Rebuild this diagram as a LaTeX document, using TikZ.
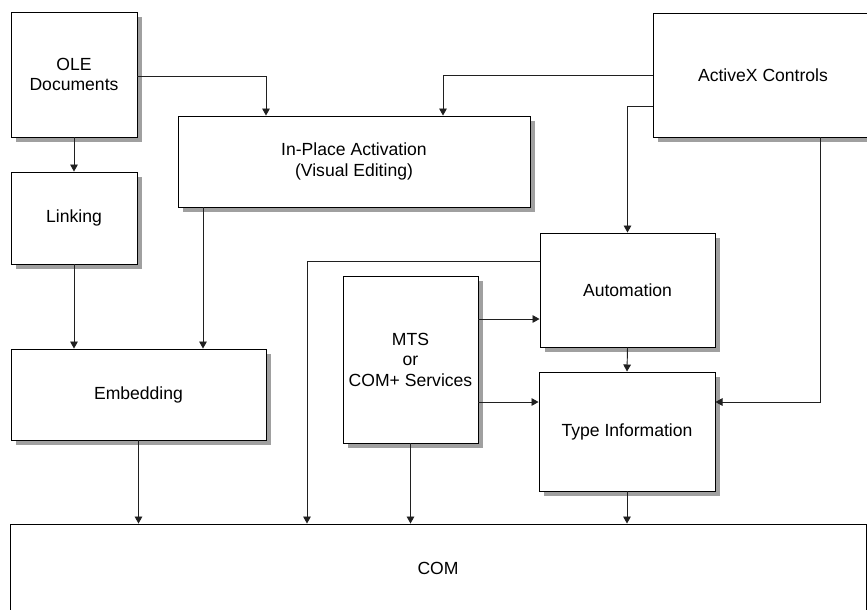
\documentclass[tikz,border=0pt]{standalone}
\usepackage{fontspec}
\setmainfont{Liberation Sans}
\usetikzlibrary{arrows.meta}
\definecolor{shadowgray}{HTML}{A0A0A0}
\definecolor{linegray}{HTML}{202020}
\begin{document}
\begin{tikzpicture}[x=0.03cm,y=-0.03cm,
  box/.style={draw=black, line width=0.8pt, fill=white, rectangle, align=center,
    inner sep=0pt, font=\fontsize{15}{17.5}\selectfont},
  shadowbox/.style={fill=shadowgray, draw=none},
  arr/.style={draw=linegray, line width=0.8pt, -{Triangle[width=6.5pt,length=6pt]}}]
\fill[white] (0,0) rectangle (867,609);
\useasboundingbox (0,0) rectangle (867,609);
\clip (0,0) rectangle (867,609);

% shadows
\fill[shadowbox] (16,17) rectangle (142,142);
\fill[shadowbox] (16,177) rectangle (142,269);
\fill[shadowbox] (16,354) rectangle (271,445);
\fill[shadowbox] (183,121) rectangle (535,212);
\fill[shadowbox] (658,18) rectangle (878,142);
\fill[shadowbox] (545,238) rectangle (720,352);
\fill[shadowbox] (348,281) rectangle (483,448);
\fill[shadowbox] (544,377) rectangle (720,496);

% boxes
\node[box, minimum width=3.78cm, minimum height=3.75cm] (ole) at (74,74.5) {OLE\\Documents};
\node[box, minimum width=3.78cm, minimum height=2.76cm] (link) at (74,218) {Linking};
\node[box, minimum width=7.65cm, minimum height=2.73cm] (emb) at (138.5,394.5) {Embedding};
\node[box, minimum width=10.56cm, minimum height=2.73cm] (inplace) at (354,161.5) {In-Place Activation\\(Visual Editing)};
\node[box, minimum width=6.6cm, minimum height=3.72cm] (activex) at (763,75) {ActiveX Controls};
\node[box, minimum width=5.25cm, minimum height=3.42cm] (auto) at (627.5,290) {Automation};
\node[box, minimum width=4.05cm, minimum height=5.01cm] (mts) at (410.5,359.5) {MTS\\or\\COM+ Services};
\node[box, minimum width=5.28cm, minimum height=3.57cm] (type) at (627,431.5) {Type Information};
\node[box, minimum width=25.68cm, minimum height=2.64cm] (com) at (438,568) {COM};

% connectors
\draw[arr] (ole.east |- 0,76) -| (266,0 |- inplace.north);
\draw[arr] (activex.west |- 0,75) -| (443,0 |- inplace.north);
\draw[arr] (activex.west |- 0,106) -| (auto.north);
\draw[arr] (820,0 |- activex.south) |- (type.east |- 0,402);
\draw[arr] (ole.south) -- (link.north);
\draw[arr] (link.south) -- (link.south |- emb.north);
\draw[arr] (203,0 |- inplace.south) -- (203,0 |- emb.north);
\draw[arr] (auto.west |- 0,261) -| (307,0 |- com.north);
\draw[arr] (mts.east |- 0,319) -- (auto.west |- 0,319);
\draw[arr] (mts.east |- 0,402) -- (type.west |- 0,402);
\draw[arr] (auto.south) -- (type.north);
\draw[arr] (mts.south) -- (mts.south |- com.north);
\draw[arr] (emb.south) -- (emb.south |- com.north);
\draw[arr] (type.south) -- (type.south |- com.north);
\end{tikzpicture}
\end{document}
